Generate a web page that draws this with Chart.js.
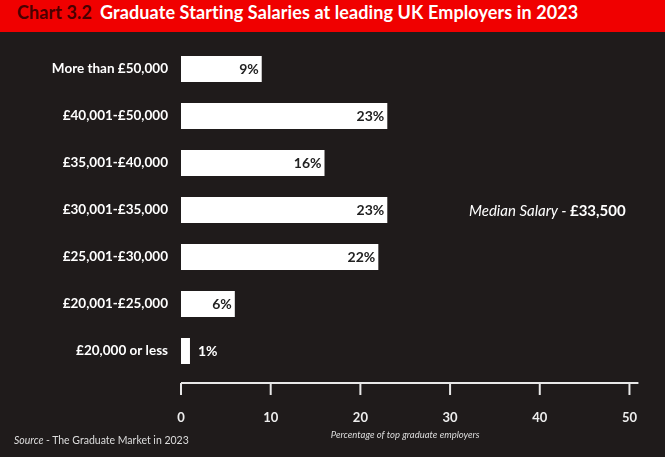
<!DOCTYPE html>
<html><head><meta charset="utf-8">
<script src="https://cdn.jsdelivr.net/npm/chart.js@4/dist/chart.umd.min.js"></script>
<style>
html,body{margin:0;padding:0;background:#1f1b1b;width:665px;height:457px;overflow:hidden;font-family:Lato,"Open Sans",sans-serif}
#title{position:absolute;left:0;top:0;width:665px;height:32px;background:#f00000;color:#fff;font-weight:bold;font-size:18px;line-height:25px;padding-left:17px;box-sizing:border-box;letter-spacing:0.1px}
#src{position:absolute;left:14px;top:434px;color:#ddd;font-size:10.5px;font-style:italic}
#src b{font-style:normal;font-weight:normal}
#med{position:absolute;left:469px;top:201px;color:#fff;font-size:15px;font-style:italic}
#med b{font-style:normal}
canvas{position:absolute;left:0;top:0}
</style></head><body>
<canvas id="c" width="665" height="457"></canvas>
<div id="title"><span style="color:#4a0000;margin-right:8px">Chart 3.2</span>Graduate Starting Salaries at leading UK Employers in 2023</div>
<div id="med">Median Salary - <b>£33,500</b></div>
<div id="src">Source <b>- The Graduate Market in 2023</b></div>
<script>
const categories=["More than £50,000","£40,001-£50,000","£35,001-£40,000","£30,001-£35,000","£25,001-£30,000","£20,001-£25,000","£20,000 or less"];
const values=[9,23,16,23,22,6,1];
const xTicks=[0,10,20,30,40,50];

const axisPlugin={id:'axisLine',afterDraw(chart){
  const ctx=chart.ctx,x=chart.scales.x,y0=chart.chartArea.bottom+8.5;
  ctx.save();ctx.strokeStyle='#e8e8e8';ctx.lineWidth=2;
  ctx.beginPath();ctx.moveTo(x.getPixelForValue(0),y0);ctx.lineTo(x.getPixelForValue(51),y0);ctx.stroke();
  xTicks.forEach(t=>{const p=x.getPixelForValue(t);ctx.beginPath();ctx.moveTo(p,y0);ctx.lineTo(p,y0+12);ctx.stroke();});
  const meta=chart.getDatasetMeta(0);
  ctx.font='bold 14px Lato, "Open Sans", sans-serif';ctx.textBaseline='middle';
  meta.data.forEach((b,i)=>{
    const v=values[i];
    if(v<3){ctx.fillStyle='#fff';ctx.textAlign='left';ctx.fillText(v+'%',b.x+8,b.y);}
    else{ctx.fillStyle='#222';ctx.textAlign='right';ctx.fillText(v+'%',b.x-3,b.y);}
  });
  ctx.restore();
}};

new Chart(document.getElementById('c'),{
  type:'bar',
  data:{labels:categories,datasets:[{data:values,backgroundColor:'#ffffff',barPercentage:0.55,categoryPercentage:1}]},
  options:{
    indexAxis:'y',responsive:false,animation:false,
    layout:{padding:{top:45.5,right:21,left:0,bottom:0}},
    plugins:{legend:{display:false},tooltip:{enabled:false}},
    scales:{
      x:{min:0,max:50,afterBuildTicks(s){s.ticks=xTicks.map(v=>({value:v}));},
        afterFit(s){s.height=82.5;},
        grid:{display:false},border:{display:false},
        ticks:{color:'#eee',padding:28,font:{size:13,weight:'bold',family:'Lato'}},
        title:{display:true,text:'Percentage of top graduate employers',color:'#ddd',font:{size:9.5,style:'italic',family:'Lato'},padding:{top:4,bottom:16}}},
      y:{afterFit(s){s.width=181;},grid:{display:false},border:{display:false},
        ticks:{color:'#fff',padding:5,font:{size:13.5,weight:'bold',family:'Lato'}}}
    }
  },
  plugins:[axisPlugin]
});
</script>
</body></html>
